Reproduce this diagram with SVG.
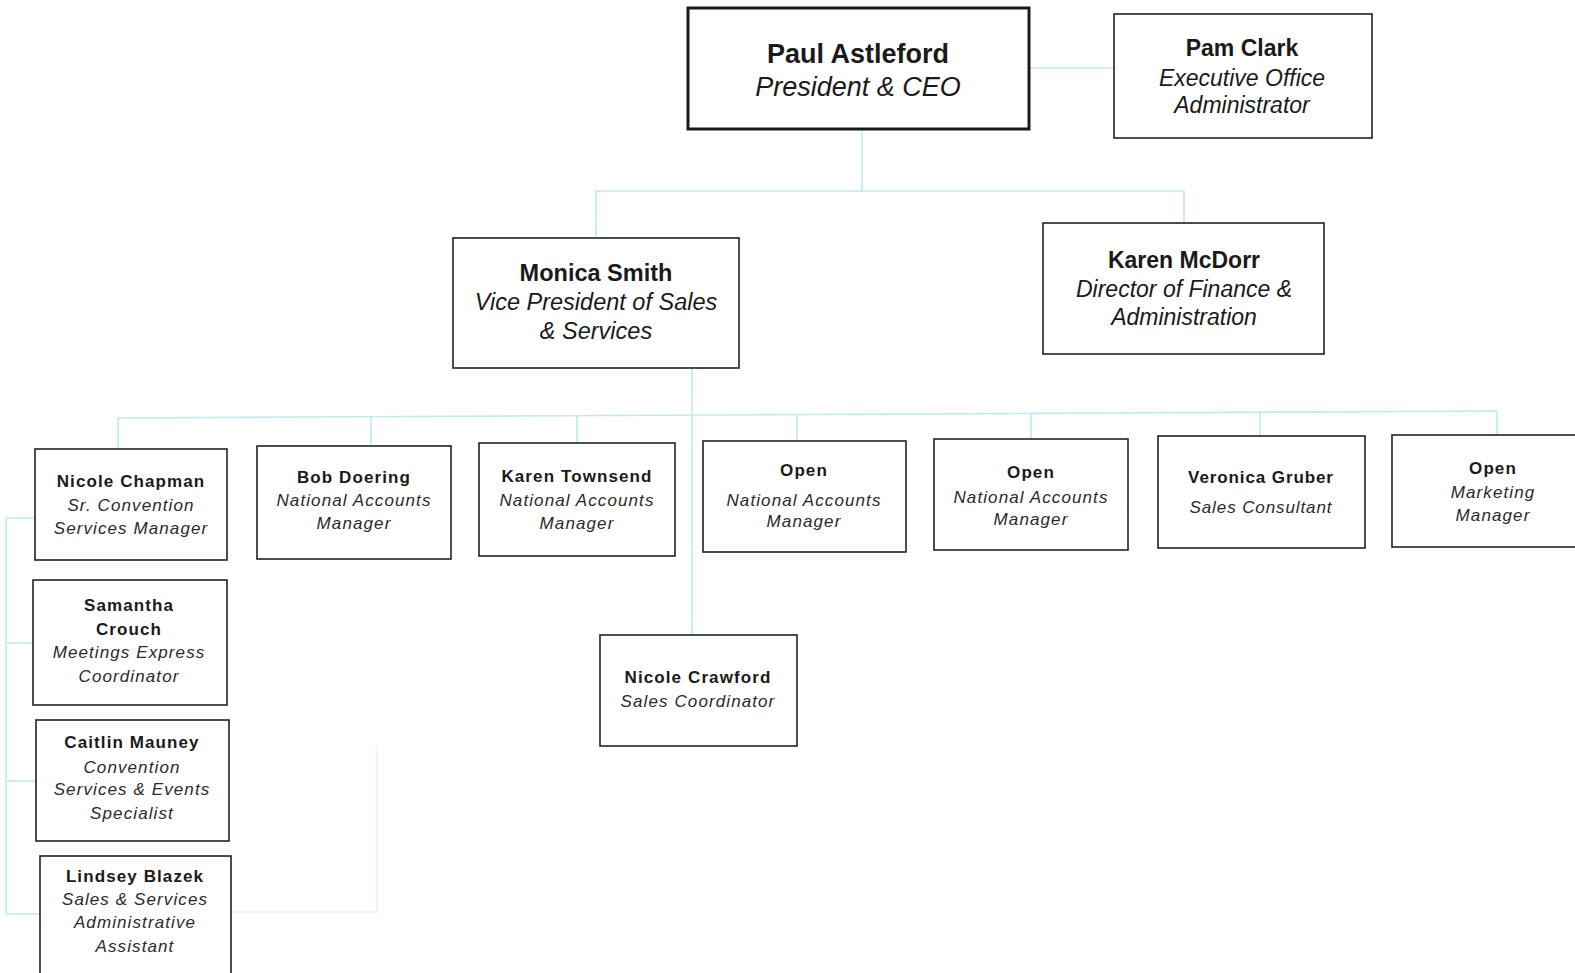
<svg xmlns="http://www.w3.org/2000/svg" width="1575" height="973" viewBox="0 0 1575 973">
<style>
.box{fill:#fff;stroke:#222;stroke-width:1.6}
.boss{fill:#fff;stroke:#1a1a1a;stroke-width:3}
.c{fill:none;stroke:#bfeaee;stroke-width:1.6}
.f{fill:none;stroke:#e3f6f8;stroke-width:1.4}
text{font-family:"Liberation Sans",Arial,sans-serif;fill:#1a1a1a;text-anchor:middle}
.nm{font-weight:bold;font-size:17px;letter-spacing:1.1px}
.tt{font-style:italic;font-size:17px;letter-spacing:1.1px;fill:#2a2a2a}
</style>
<rect width="1575" height="973" fill="#fff"/>
<g id="connectors">
<line class="c" x1="1029" y1="68" x2="1114" y2="68"/>
<polyline class="c" points="862,129 862,191"/>
<polyline class="c" points="596,238 596,191 1184,191 1184,223"/>
<line class="c" x1="692" y1="368" x2="692" y2="635"/>
<line class="c" x1="118" y1="418" x2="1497" y2="411"/>
<line class="c" x1="118" y1="418" x2="118" y2="449"/>
<line class="c" x1="371" y1="416.7" x2="371" y2="446"/>
<line class="c" x1="577" y1="415.7" x2="577" y2="443"/>
<line class="c" x1="797" y1="414.6" x2="797" y2="441"/>
<line class="c" x1="1031" y1="413.4" x2="1031" y2="439"/>
<line class="c" x1="1260" y1="412.2" x2="1260" y2="436"/>
<line class="c" x1="1497" y1="411" x2="1497" y2="435"/>
<polyline class="c" points="35,518 6,518 6,914 40,914"/>
<line class="c" x1="6" y1="643" x2="33" y2="643"/>
<line class="c" x1="6" y1="781" x2="36" y2="781"/>
<polyline class="f" points="231,912 377,912 377,745"/>
</g>
<g id="paul">
<rect class="boss" x="688" y="8" width="341" height="121"/>
<text x="858" y="63" style="font-weight:bold;font-size:27px">Paul Astleford</text>
<text x="858" y="96" style="font-style:italic;font-size:27px">President &amp; CEO</text>
</g>
<g id="pam">
<rect class="box" x="1114" y="14" width="258" height="124"/>
<text x="1242" y="56" style="font-weight:bold;font-size:23px">Pam Clark</text>
<text x="1242" y="86" style="font-style:italic;font-size:23px">Executive Office</text>
<text x="1242" y="113" style="font-style:italic;font-size:23px">Administrator</text>
</g>
<g id="monica">
<rect class="box" x="453" y="238" width="286" height="130"/>
<text x="596" y="281" style="font-weight:bold;font-size:23.5px">Monica Smith</text>
<text x="596" y="310" style="font-style:italic;font-size:23.5px">Vice President of Sales</text>
<text x="596" y="339" style="font-style:italic;font-size:23.5px">&amp; Services</text>
</g>
<g id="karen-mcdorr">
<rect class="box" x="1043" y="223" width="281" height="131"/>
<text x="1184" y="268" style="font-weight:bold;font-size:23px">Karen McDorr</text>
<text x="1184" y="297" style="font-style:italic;font-size:23px">Director of Finance &amp;</text>
<text x="1184" y="325" style="font-style:italic;font-size:23px">Administration</text>
</g>
<g id="nicole-chapman">
<rect class="box" x="35" y="449" width="192" height="111"/>
<text class="nm" x="131" y="487">Nicole Chapman</text>
<text class="tt" x="131" y="511">Sr. Convention</text>
<text class="tt" x="131" y="534">Services Manager</text>
</g>
<g id="bob-doering">
<rect class="box" x="257" y="446" width="194" height="113"/>
<text class="nm" x="354" y="483">Bob Doering</text>
<text class="tt" x="354" y="506">National Accounts</text>
<text class="tt" x="354" y="529">Manager</text>
</g>
<g id="karen-townsend">
<rect class="box" x="479" y="443" width="196" height="113"/>
<text class="nm" x="577" y="482">Karen Townsend</text>
<text class="tt" x="577" y="506">National Accounts</text>
<text class="tt" x="577" y="529">Manager</text>
</g>
<g id="open-nam-1">
<rect class="box" x="703" y="441" width="203" height="111"/>
<text class="nm" x="804" y="476">Open</text>
<text class="tt" x="804" y="506">National Accounts</text>
<text class="tt" x="804" y="527">Manager</text>
</g>
<g id="open-nam-2">
<rect class="box" x="934" y="439" width="194" height="111"/>
<text class="nm" x="1031" y="478">Open</text>
<text class="tt" x="1031" y="503">National Accounts</text>
<text class="tt" x="1031" y="525">Manager</text>
</g>
<g id="veronica-gruber">
<rect class="box" x="1158" y="436" width="207" height="112"/>
<text class="nm" x="1261" y="483" style="letter-spacing:0.9px">Veronica Gruber</text>
<text class="tt" x="1261" y="513" style="letter-spacing:0.9px">Sales Consultant</text>
</g>
<g id="open-marketing">
<rect class="box" x="1392" y="435" width="200" height="112"/>
<text class="nm" x="1493" y="474">Open</text>
<text class="tt" x="1493" y="498">Marketing</text>
<text class="tt" x="1493" y="521">Manager</text>
</g>
<g id="samantha-crouch">
<rect class="box" x="33" y="580" width="194" height="125"/>
<text class="nm" x="129" y="611">Samantha</text>
<text class="nm" x="129" y="635">Crouch</text>
<text class="tt" x="129" y="658">Meetings Express</text>
<text class="tt" x="129" y="682">Coordinator</text>
</g>
<g id="caitlin-mauney">
<rect class="box" x="36" y="720" width="193" height="121"/>
<text class="nm" x="132" y="748">Caitlin Mauney</text>
<text class="tt" x="132" y="773">Convention</text>
<text class="tt" x="132" y="795">Services &amp; Events</text>
<text class="tt" x="132" y="819">Specialist</text>
</g>
<g id="lindsey-blazek">
<rect class="box" x="40" y="856" width="191" height="130"/>
<text class="nm" x="135" y="882">Lindsey Blazek</text>
<text class="tt" x="135" y="905">Sales &amp; Services</text>
<text class="tt" x="135" y="928">Administrative</text>
<text class="tt" x="135" y="952">Assistant</text>
</g>
<g id="nicole-crawford">
<rect class="box" x="600" y="635" width="197" height="111"/>
<text class="nm" x="698" y="683">Nicole Crawford</text>
<text class="tt" x="698" y="707">Sales Coordinator</text>
</g>
</svg>
